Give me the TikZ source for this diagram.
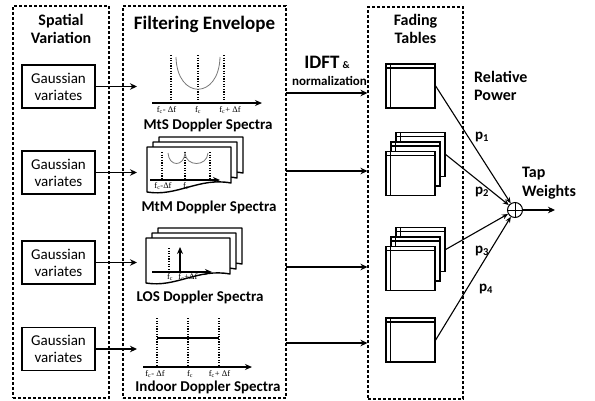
\documentclass[tikz,border=0pt]{standalone}
\usepackage{fontspec}
\setmainfont{Carlito}
\newfontfamily\axisfont{Liberation Serif}
\usepackage{tikz}
\usetikzlibrary{arrows.meta, positioning, calc}
\definecolor{curveGray}{RGB}{120,120,120}

% one page of a spectrum stack, top left corner at (#1,#2)
\newcommand{\specsheet}[2]{%
  \filldraw[sheet] (#1,#2) -- (#1+84,#2) -- (#1+84,#2+36)
    .. controls (#1+52,#2+30) and (#1+30,#2+50) .. (#1,#2+45) -- cycle;}
\newcommand{\specstack}[2]{%
  \specsheet{#1+12}{#2-10}\specsheet{#1+6}{#2-5}\specsheet{#1}{#2}}
% table icon with a header row and a first column
\newcommand{\tableicon}[3]{%
  \node[tablenode] (#1) at (#2,#3) {};
  \draw[tableline] ([xshift=5pt]#1.north west) -- ([xshift=5pt]#1.south west);
  \draw[tableline] ([yshift=-4.5pt]#1.north west) -- ([yshift=-4.5pt]#1.north east);}
\newcommand{\fc}{f\textsubscript{c}}

\begin{document}
\begin{tikzpicture}[x=1pt, y=-1pt,
    groupbox/.style={draw, dash pattern=on 3pt off 2pt, line width=1.1pt, inner sep=0pt},
    titletext/.style={font=\fontsize{16}{18.5}\selectfont\bfseries, align=center, inner sep=0pt},
    gaussnode/.style={rectangle, draw, line width=1.4pt, minimum width=73pt, minimum height=43pt, inner sep=0pt, align=center, font=\fontsize{15}{17}\selectfont},
    flow/.style={line width=1.4pt, -{Stealth[length=7pt, width=6.5pt]}},
    freqaxis/.style={line width=1.6pt, -{Stealth[length=7pt, width=6pt]}},
    guide/.style={line width=1.4pt, dash pattern=on 1.2pt off 1.4pt},
    spectrum/.style={curveGray, line width=0.8pt},
    sheet/.style={fill=white, draw=black, line width=1.4pt, line join=round},
    flabel/.style={font=\axisfont\fontsize{8.5}{9}\selectfont, inner sep=0pt},
    spectitle/.style={font=\fontsize{15}{17}\selectfont\bfseries, anchor=base, inner sep=0pt},
    tablenode/.style={rectangle, draw, fill=white, line width=1.3pt, minimum width=49pt, minimum height=44pt, inner sep=0pt},
    tableline/.style={line width=1.3pt},
    sumnode/.style={circle, draw, line width=1pt, minimum size=15pt, inner sep=0pt},
    plink/.style={line width=1.1pt, -{Stealth[length=6pt, width=5pt]}},
    plabel/.style={font=\fontsize{15}{17}\selectfont\bfseries, inner sep=0pt}
  ]
    \useasboundingbox (0,0) rectangle (595,400);

    % dashed groups
    \node[groupbox, minimum width=96pt, minimum height=392pt] (sv) at (61,202) {};
    \node[groupbox, minimum width=163pt, minimum height=392pt] (fe) at (204.5,202) {};
    \node[groupbox, minimum width=95pt, minimum height=392pt] (ft) at (415.5,203) {};
    \node[titletext] (svTitle) at (61,29) {Spatial\\Variation};
    \node[titletext, font=\fontsize{19}{21}\selectfont\bfseries] (feTitle) at (204.5,24) {Filtering Envelope};
    \node[titletext] (ftTitle) at (415.5,29) {Fading\\Tables};

    % gaussian sources
    \node[gaussnode] (g1) at (58.5,86.5) {Gaussian\\variates};
    \node[gaussnode] (g2) at (58.5,172.5) {Gaussian\\variates};
    \node[gaussnode] (g3) at (58.5,262.5) {Gaussian\\variates};
    \node[gaussnode] (g4) at (58.5,349) {Gaussian\\variates};
    \coordinate (mtsIn) at (137,86.5);
    \coordinate (mtmIn) at (137,172.5);
    \coordinate (losIn) at (137,262.5);
    \coordinate (indoorIn) at (137,349);
    \path[flow] (g1.east) edge (mtsIn) (g2.east) edge (mtmIn) (g3.east) edge (losIn) (g4.east) edge (indoorIn);

    % MtS spectrum
    \draw[guide] (171,55) -- (171,103) (198,55) -- (198,103) (224,55) -- (224,103);
    \draw[spectrum] (176,57) .. controls (177,100) and (219,100) .. (220,57);
    \draw[freqaxis] (152,103) -- (262,103);
    \node[flabel] at (166.5,110) {\fc- Δf};
    \node[flabel] at (198,110) {\fc};
    \node[flabel] at (230,110) {\fc+ Δf};
    \node[spectitle] (mtsTitle) at (208,129) {MtS Doppler Spectra};

    % MtM spectrum
    \specstack{147}{147}
    \draw[guide] (162,152) -- (162,180) (185,152) -- (185,180) (210,152) -- (210,180);
    \draw[spectrum] (168,153) .. controls (169,167) and (184,167) .. (185,153)
      .. controls (186,167) and (207,167) .. (208,153);
    \draw[freqaxis] (150,180) -- (220,180);
    \node[flabel] at (163,186) {\fc-Δf};
    \node[flabel] at (186,186) {\fc};
    \node[spectitle] (mtmTitle) at (209,211.5) {MtM Doppler Spectra};

    % LOS spectrum
    \specstack{146}{238}
    \draw[guide] (169,248) -- (169,272);
    \draw[freqaxis] (180,272) -- (180,247);
    \draw[freqaxis] (152,272) -- (212,272);
    \node[flabel] at (170,277.5) {\fc};
    \node[flabel] at (188,277.5) {\fc+Δf};
    \node[spectitle] (losTitle) at (200,301.5) {LOS Doppler Spectra};

    % indoor spectrum
    \draw[guide] (157,318) -- (157,367) (188,318) -- (188,367) (219,318) -- (219,367);
    \draw[line width=1.2pt] (157,338) -- (219,338);
    \draw[freqaxis] (143,367) -- (252,367);
    \node[flabel] at (155,374) {\fc- Δf};
    \node[flabel] at (190,374) {\fc};
    \node[flabel] at (219.5,374) {\fc+ Δf};
    \node[spectitle] (indoorTitle) at (208,391.5) {Indoor Doppler Spectra};

    % IDFT into fading tables
    \node[anchor=base, inner sep=0pt, font=\fontsize{19}{21}\selectfont\bfseries] (idft) at (327,68) {IDFT\,{\fontsize{10}{10}\selectfont\&}};
    \node[anchor=base, inner sep=0pt, font=\fontsize{13}{15}\selectfont\bfseries] (norm) at (329.5,85.5) {normalization};
    \coordinate (out1) at (286,93);
    \coordinate (out2) at (286,171);
    \coordinate (out3) at (286,267);
    \coordinate (out4) at (286,343);
    \path[flow] (out1) edge (out1 -| ft.west) (out2) edge (out2 -| ft.west)
      (out3) edge (out3 -| ft.west) (out4) edge (out4 -| ft.west);

    % fading tables
    \tableicon{t1}{410.5}{86}
    \tableicon{t2c}{420.5}{154.5}
    \tableicon{t2b}{415.5}{164}
    \tableicon{t2}{410.5}{173.5}
    \tableicon{t3c}{420.5}{249.5}
    \tableicon{t3b}{415.5}{259}
    \tableicon{t3}{410.5}{268.5}
    \tableicon{t4}{410.5}{340}

    % relative power and tap weights
    \node[titletext, align=left, anchor=west] (relPower) at (474,86) {Relative\\Power};
    \node[titletext, align=left, anchor=west] (tapWeights) at (522,183) {Tap\\Weights};
    \node[sumnode] (sum) at (515,210) {};
    \draw[line width=1pt] (sum.north) -- (sum.south) (sum.west) -- (sum.east);
    \coordinate (tapOut) at (555,210);
    \path[plink] (t1.east) edge (sum) (t2c.east) edge (sum) (t3c.east) edge (sum) (t4.east) edge (sum);
    \path[flow] (sum) edge (tapOut);
    \node[plabel] at (482,137) {p\textsubscript{1}};
    \node[plabel] at (482,192) {p\textsubscript{2}};
    \node[plabel] at (482,251) {p\textsubscript{3}};
    \node[plabel] at (486,289) {p\textsubscript{4}};
\end{tikzpicture}
\end{document}
